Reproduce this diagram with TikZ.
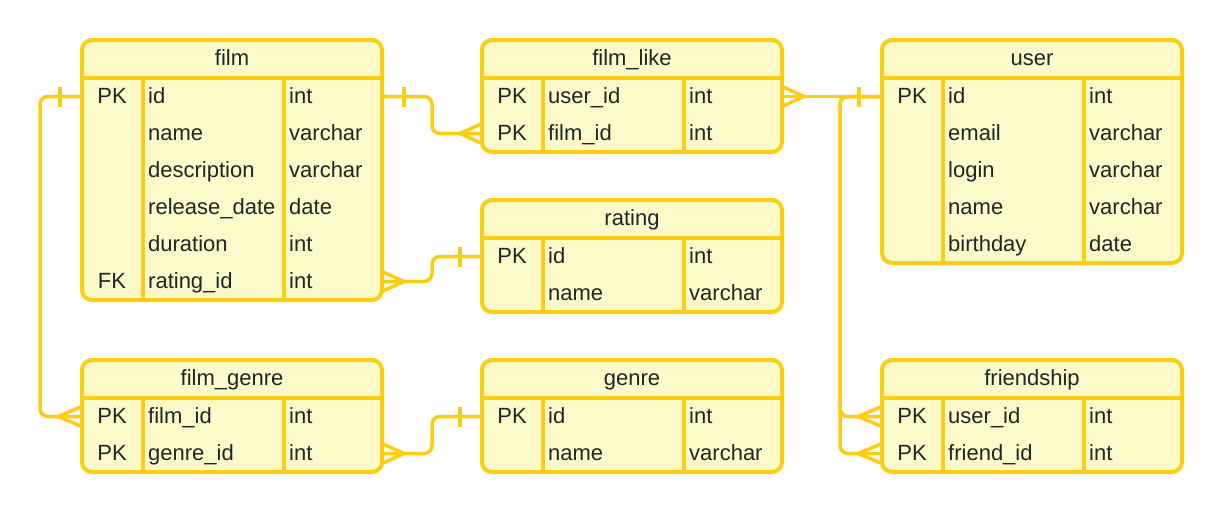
\documentclass[tikz,border=0pt]{standalone}
\usepackage{fontspec}
\setmainfont{Liberation Sans}
\usetikzlibrary{calc}
\definecolor{erstroke}{RGB}{255,204,20}
\definecolor{erfill}{RGB}{252,250,200}
\definecolor{ertext}{RGB}{30,38,44}
\tikzset{
  tablebox/.style={draw=erstroke, fill=erfill, line width=4pt, rounded corners=10pt,
    minimum width=300pt, inner sep=0pt, outer sep=0pt, anchor=north west},
  rulestroke/.style={draw=erstroke, line width=4pt},
  rowslot/.style={minimum width=300pt, minimum height=37pt, inner sep=0pt, outer sep=0pt, anchor=north west},
  celltext/.style={text=ertext, font=\fontsize{22}{26}\selectfont, inner sep=0pt,
    text height=17pt, text depth=4pt},
  conn/.style={draw=erstroke, line width=3.5pt, rounded corners=8pt},
  erend/.style={draw=erstroke, line width=3.5pt},
}
\newcommand\ertable[6]{%
  \node[tablebox, minimum height={38+37*#5}] (#1) at (#2,#3) {};
  \node[celltext] (#1-title) at ({#2+150},{#3+19}) {#4};
  \draw[rulestroke] (#2,{#3+38}) -- ({#2+300},{#3+38});
  \draw[rulestroke] ({#2+61},{#3+38}) -- ({#2+61},{#3+38+37*#5});
  \draw[rulestroke] ({#2+202},{#3+38}) -- ({#2+202},{#3+38+37*#5});
  \foreach \k/\f/\t [count=\i] in {#6} {
    \node[rowslot] (#1-\i) at (#2,{#3+38+37*(\i-1)}) {};
    \node[celltext] at ([xshift=30pt]#1-\i.west) {\k};
    \node[celltext, anchor=west] at ([xshift=66pt]#1-\i.west) {\f};
    \node[celltext, anchor=west] at ([xshift=207pt]#1-\i.west) {\t};
  }%
}
\begin{document}
\begin{tikzpicture}[x=1pt,y=-1pt]
\useasboundingbox (0,0) rectangle (1222,514);

\ertable{film}{82}{40}{film}{6}{PK/id/int, {}/name/varchar, {}/description/varchar, {}/release\_date/date, {}/duration/int, FK/rating\_id/int}
\ertable{filmlike}{482}{40}{film\_like}{2}{PK/user\_id/int, PK/film\_id/int}
\ertable{user}{882}{40}{user}{5}{PK/id/int, {}/email/varchar, {}/login/varchar, {}/name/varchar, {}/birthday/date}
\ertable{rating}{482}{200}{rating}{2}{PK/id/int, {}/name/varchar}
\ertable{filmgenre}{82}{360}{film\_genre}{2}{PK/film\_id/int, PK/genre\_id/int}
\ertable{genre}{482}{360}{genre}{2}{PK/id/int, {}/name/varchar}
\ertable{friendship}{882}{360}{friendship}{2}{PK/user\_id/int, PK/friend\_id/int}

% film.id -> film_like.film_id
\draw[conn] (film-1.east) -- ++(50,0) |- (filmlike-2.west);
\draw[erend, shift={(film-1.east)}] (22,-10) -- (22,10);
\draw[erend, shift={(filmlike-2.west)}] (0,-10) -- (-22,0) -- (0,10);

% film_like.user_id -> user.id
\draw[conn] (filmlike-1.east) -- (user-1.west);
\draw[erend, shift={(filmlike-1.east)}] (0,-10) -- (22,0) -- (0,10);
\draw[erend, shift={(user-1.west)}] (-23,-10) -- (-23,10);

% user.id -> friendship
\coordinate (fj) at ($(filmlike-1.east)!0.58!(user-1.west)$);
\draw[conn] (user-1.west) -| (fj |- friendship-1.west) -- (friendship-1.west);
\draw[conn] (user-1.west) -| (fj |- friendship-2.west) -- (friendship-2.west);
\draw[erend, shift={(friendship-1.west)}] (0,-10) -- (-24,0) -- (0,10);
\draw[erend, shift={(friendship-2.west)}] (0,-10) -- (-24,0) -- (0,10);

% film.rating_id -> rating.id
\draw[conn] (film-6.east) -- ++(50,0) |- (rating-1.west);
\draw[erend, shift={(film-6.east)}] (0,-10) -- (22,0) -- (0,10);
\draw[erend, shift={(rating-1.west)}] (-22,-10) -- (-22,10);

% film.id -> film_genre.film_id
\draw[conn] (film-1.west) -- ++(-42,0) |- (filmgenre-1.west);
\draw[erend, shift={(film-1.west)}] (-22,-10) -- (-22,10);
\draw[erend, shift={(filmgenre-1.west)}] (0,-10) -- (-24,0) -- (0,10);

% film_genre.genre_id -> genre.id
\draw[conn] (filmgenre-2.east) -- ++(50,0) |- (genre-1.west);
\draw[erend, shift={(filmgenre-2.east)}] (0,-10) -- (22,0) -- (0,10);
\draw[erend, shift={(genre-1.west)}] (-22,-10) -- (-22,10);
\end{tikzpicture}
\end{document}
